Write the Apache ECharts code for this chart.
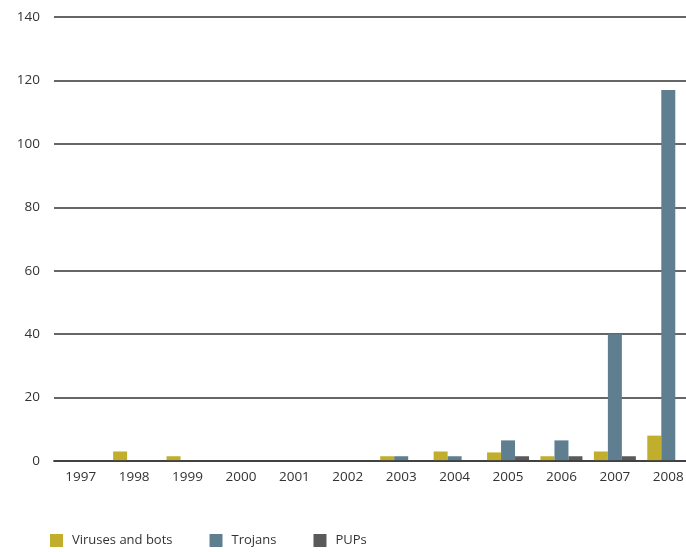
<!DOCTYPE html>
<html>
<head>
<meta charset="utf-8">
<script src="https://cdn.jsdelivr.net/npm/echarts@6/dist/echarts.min.js"></script>
<style>
html,body{margin:0;padding:0;background:#fff;overflow:hidden;}
#chart{width:686px;height:552px;}
</style>
</head>
<body>
<div id="chart"></div>
<script>
var years = ['1997','1998','1999','2000','2001','2002','2003','2004','2005','2006','2007','2008'];
var virusesAndBots = [0, 3, 1.5, 0, 0, 0, 1.5, 3, 2.7, 1.5, 3, 8];
var trojans = [0, 0, 0, 0, 0, 0, 1.5, 1.5, 6.5, 6.5, 40, 117];
var pups = [0, 0, 0, 0, 0, 0, 0, 0, 1.5, 1.5, 1.5, 0];
var yTicks = [0, 20, 40, 60, 80, 100, 120, 140];

var FONT = '"Open Sans", sans-serif';
var chart = echarts.init(document.getElementById('chart'));
chart.setOption({
  animation: false,
  grid: { left: 54, right: -9, top: 17, bottom: 91, containLabel: false, outerBoundsMode: 'none' },
  legend: {
    left: 45, top: 529,
    itemWidth: 13, itemHeight: 13, itemGap: 37,
    icon: 'rect',
    textStyle: { fontFamily: FONT, fontSize: 13, color: '#333', padding: [0, 0, 0, 4] },
    data: ['Viruses and bots', 'Trojans', 'PUPs']
  },
  xAxis: {
    type: 'category',
    data: years,
    z: 5,
    axisLine: { show: true, lineStyle: { color: 'rgba(60,60,60,0.85)', width: 2 } },
    axisTick: { show: false },
    axisLabel: { fontFamily: FONT, fontSize: 13.5, color: '#333', margin: 9 }
  },
  yAxis: {
    type: 'value',
    min: yTicks[0], max: yTicks[yTicks.length - 1], interval: 20,
    axisLine: { show: false },
    axisTick: { show: false },
    axisLabel: { fontFamily: FONT, fontSize: 13.5, color: '#333', margin: 14 },
    splitLine: { show: true, lineStyle: { color: '#333', width: 1.5 } }
  },
  series: [
    { name: 'Viruses and bots', type: 'bar', data: virusesAndBots, barWidth: 14, barGap: '0%', itemStyle: { color: '#C0AE2C' } },
    { name: 'Trojans', type: 'bar', data: trojans, barWidth: 14, barGap: '0%', itemStyle: { color: '#5F7F91' } },
    { name: 'PUPs', type: 'bar', data: pups, barWidth: 14, barGap: '0%', itemStyle: { color: '#5A5A5A' } }
  ]
});
</script>
</body>
</html>
